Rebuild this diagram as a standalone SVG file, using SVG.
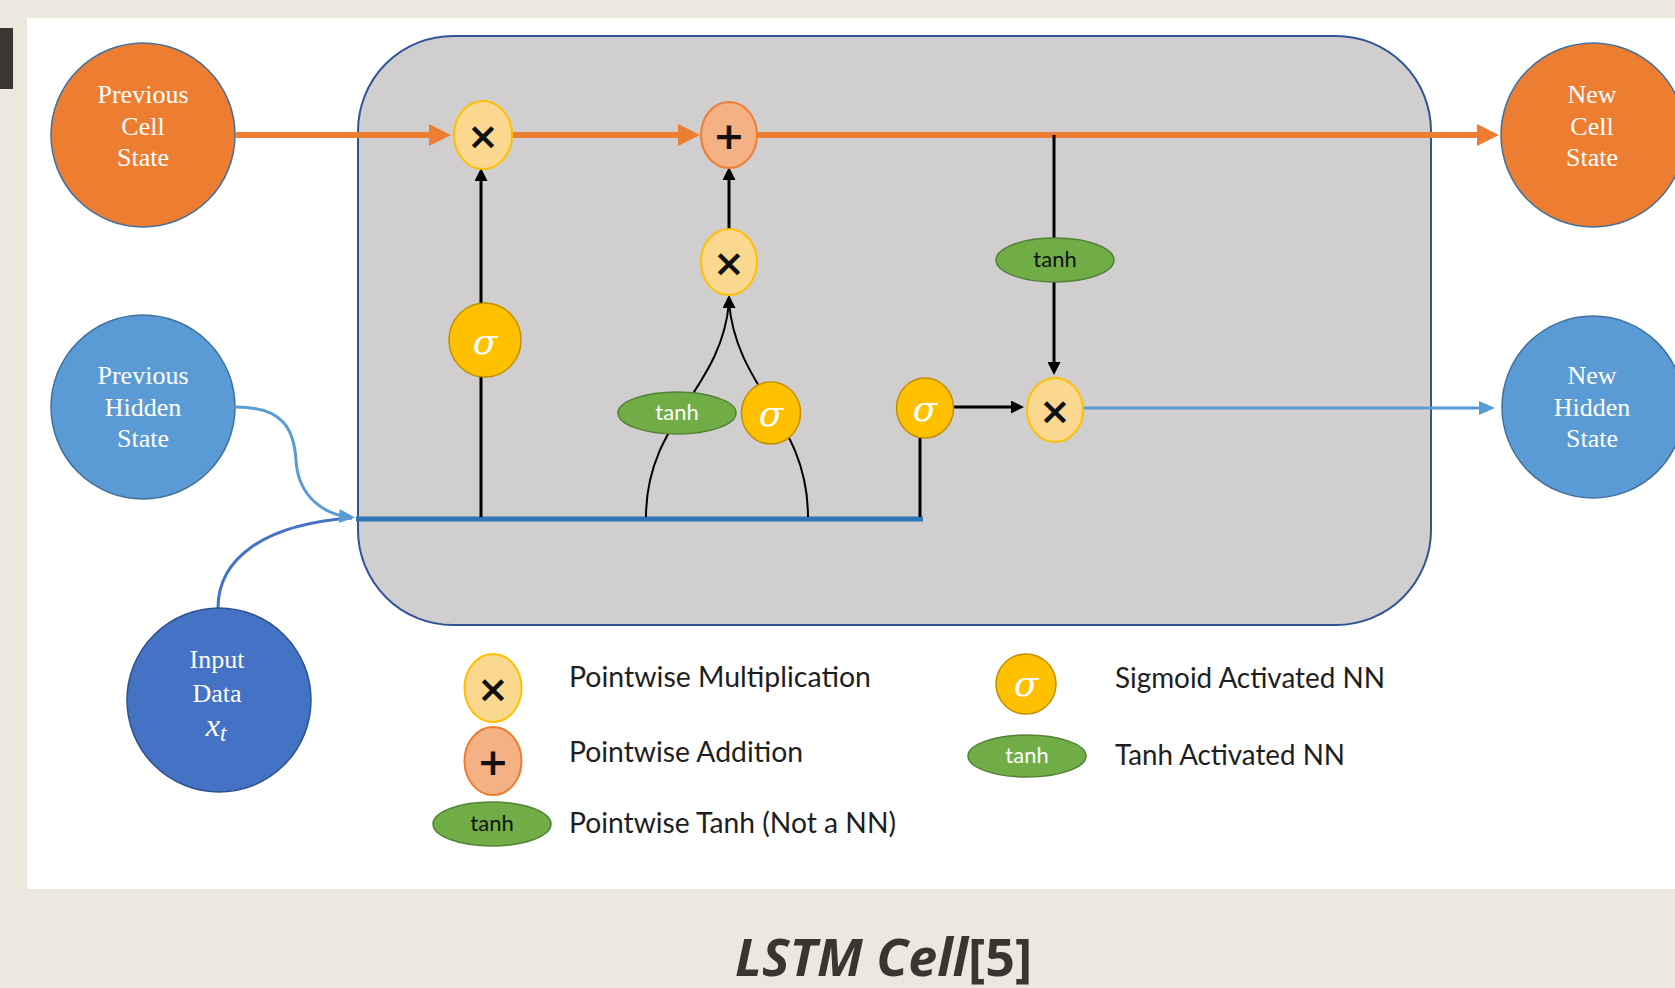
<svg xmlns="http://www.w3.org/2000/svg" width="1675" height="988" viewBox="0 0 1675 988">
  <style>
    .lbl-serif { font-family: "Liberation Serif", "Times New Roman", serif; font-size: 26px; fill: #ffffff; text-anchor: middle; }
    .op { font-family: "DejaVu Sans", "Liberation Sans", sans-serif; font-weight: bold; font-size: 38px; fill: #111111; text-anchor: middle; }
    .sig { font-family: "DejaVu Serif", "Liberation Serif", serif; font-style: italic; font-size: 36px; fill: #ffffff; text-anchor: middle; }
    .tanh { font-family: Lato, "Liberation Sans", sans-serif; font-size: 22px; text-anchor: middle; }
    .legend { font-family: Lato, "Liberation Sans", sans-serif; font-size: 28px; fill: #1e1e1e; }
    .mult { fill: #FAD88F; stroke: #FFC000; stroke-width: 2; }
    .plus { fill: #F4B183; stroke: #ED7D31; stroke-width: 2; }
    .sigma { fill: #FFC000; stroke: #BF9000; stroke-width: 1.5; }
    .act { fill: #70AD47; stroke: #548235; stroke-width: 1.5; }
    .orange { stroke: #ED7D31; stroke-width: 6; fill: none; }
    .black { stroke: #000000; stroke-width: 3; fill: none; }
    .thin { stroke: #000000; stroke-width: 2; fill: none; }
  </style>
  <defs>
    <marker id="arrow-orange" markerUnits="userSpaceOnUse" markerWidth="22" markerHeight="22" refX="14" refY="11" orient="auto">
      <path d="M0,0 L22,11 L0,22 Z" fill="#ED7D31"/>
    </marker>
    <marker id="arrow-black" markerUnits="userSpaceOnUse" markerWidth="13" markerHeight="13" refX="8" refY="6.5" orient="auto">
      <path d="M0,0 L13,6.5 L0,13 Z" fill="#000000"/>
    </marker>
    <marker id="arrow-lightblue" markerUnits="userSpaceOnUse" markerWidth="16" markerHeight="14" refX="11" refY="7" orient="auto">
      <path d="M0,0 L16,7 L0,14 Z" fill="#5B9BD5"/>
    </marker>
  </defs>

  <!-- page background and white panel -->
  <rect x="0" y="0" width="1675" height="988" fill="#ECE8DE"/>
  <rect x="27" y="18" width="1648" height="871" fill="#ffffff"/>
  <rect x="0" y="28" width="13" height="61" fill="#3B3631"/>

  <!-- cell body -->
  <rect id="cell" x="358" y="36" width="1073" height="589" rx="95" ry="95" fill="#D0CECE" stroke="#2F5597" stroke-width="2"/>

  <g id="connectors">
    <!-- cell state path -->
    <line class="orange" x1="236" y1="135" x2="443" y2="135" marker-end="url(#arrow-orange)"/>
    <line class="orange" x1="512" y1="135" x2="692" y2="135" marker-end="url(#arrow-orange)"/>
    <line class="orange" x1="757" y1="135" x2="1491" y2="135" marker-end="url(#arrow-orange)"/>

    <!-- hidden state + input merge -->
    <path d="M218,608 C218,560 262,524 352,518" stroke="#4472C4" stroke-width="3" fill="none"/>
    <path d="M236,407 C284,407 294,430 296,460 C298,498 326,515 350,517" stroke="#5B9BD5" stroke-width="3" fill="none" marker-end="url(#arrow-lightblue)"/>
    <line x1="356" y1="519" x2="923" y2="519" stroke="#2E75B6" stroke-width="5"/>

    <!-- forget gate -->
    <line class="black" x1="481" y1="517" x2="481" y2="300"/>
    <line class="black" x1="481" y1="300" x2="481" y2="173" marker-end="url(#arrow-black)"/>

    <!-- input gate -->
    <path class="thin" d="M646,517 C646,420 722,390 729,302"/>
    <path class="thin" d="M808,517 C808,420 736,390 729,302"/>
    <line class="thin" x1="729" y1="306" x2="729" y2="300" marker-end="url(#arrow-black)"/>
    <line class="black" x1="729" y1="229" x2="729" y2="172" marker-end="url(#arrow-black)"/>

    <!-- output gate -->
    <line class="black" x1="920" y1="517" x2="920" y2="436"/>
    <line class="black" x1="953" y1="407" x2="1019" y2="407" marker-end="url(#arrow-black)"/>
    <line class="black" x1="1054" y1="135" x2="1054" y2="240"/>
    <line class="black" x1="1054" y1="281" x2="1054" y2="370" marker-end="url(#arrow-black)"/>

    <!-- new hidden state -->
    <line x1="1083" y1="408" x2="1490" y2="408" stroke="#5B9BD5" stroke-width="3" marker-end="url(#arrow-lightblue)"/>
  </g>

  <!-- external states -->
  <g id="prev-cell-state">
    <circle cx="143" cy="135" r="92" fill="#ED7D31" stroke="#41719C" stroke-width="1.5"/>
    <text class="lbl-serif" x="143" y="103">Previous</text>
    <text class="lbl-serif" x="143" y="135">Cell</text>
    <text class="lbl-serif" x="143" y="166">State</text>
  </g>
  <g id="prev-hidden-state">
    <circle cx="143" cy="407" r="92" fill="#5B9BD5" stroke="#41719C" stroke-width="1.5"/>
    <text class="lbl-serif" x="143" y="384">Previous</text>
    <text class="lbl-serif" x="143" y="416">Hidden</text>
    <text class="lbl-serif" x="143" y="447">State</text>
  </g>
  <g id="input-data">
    <circle cx="219" cy="700" r="92" fill="#4472C4" stroke="#2F528F" stroke-width="1.5"/>
    <text class="lbl-serif" x="217" y="668">Input</text>
    <text class="lbl-serif" x="217" y="702">Data</text>
    <text class="lbl-serif" x="216" y="736" style="font-style: italic; font-size: 32px;">x<tspan style="font-size: 23px;" dy="5">t</tspan></text>
  </g>
  <g id="new-cell-state">
    <circle cx="1593" cy="135" r="92" fill="#ED7D31" stroke="#41719C" stroke-width="1.5"/>
    <text class="lbl-serif" x="1592" y="103">New</text>
    <text class="lbl-serif" x="1592" y="135">Cell</text>
    <text class="lbl-serif" x="1592" y="166">State</text>
  </g>
  <g id="new-hidden-state">
    <circle cx="1593" cy="407" r="91" fill="#5B9BD5" stroke="#41719C" stroke-width="1.5"/>
    <text class="lbl-serif" x="1592" y="384">New</text>
    <text class="lbl-serif" x="1592" y="416">Hidden</text>
    <text class="lbl-serif" x="1592" y="447">State</text>
  </g>

  <!-- pointwise operations -->
  <g id="forget-mult">
    <ellipse class="mult" cx="483" cy="135" rx="29" ry="34"/>
    <text class="op" x="483" y="149">×</text>
  </g>
  <g id="cell-add">
    <ellipse class="plus" cx="729" cy="135" rx="28" ry="33"/>
    <text class="op" x="729" y="149">+</text>
  </g>
  <g id="input-mult">
    <ellipse class="mult" cx="729" cy="262" rx="28" ry="33"/>
    <text class="op" x="729" y="276">×</text>
  </g>
  <g id="output-mult">
    <ellipse class="mult" cx="1055" cy="410" rx="28" ry="32"/>
    <text class="op" x="1055" y="424">×</text>
  </g>
  <g id="cell-tanh">
    <ellipse class="act" cx="1055" cy="260" rx="59" ry="22"/>
    <text class="tanh" x="1055" y="267" fill="#111111">tanh</text>
  </g>

  <!-- gate layers -->
  <g id="forget-sigma">
    <ellipse class="sigma" cx="485" cy="340" rx="36" ry="37"/>
    <text class="sig" x="485" y="354">σ</text>
  </g>
  <g id="candidate-tanh">
    <ellipse class="act" cx="677" cy="413" rx="59" ry="21"/>
    <text class="tanh" x="677" y="420" fill="#ffffff">tanh</text>
  </g>
  <g id="input-sigma">
    <ellipse class="sigma" cx="771" cy="413" rx="29.5" ry="31"/>
    <text class="sig" x="771" y="426">σ</text>
  </g>
  <g id="output-sigma">
    <ellipse class="sigma" cx="925" cy="408" rx="28.5" ry="30"/>
    <text class="sig" x="925" y="421">σ</text>
  </g>

  <!-- legend -->
  <g id="legend-mult">
    <ellipse class="mult" cx="493" cy="688" rx="28.5" ry="34"/>
    <text class="op" x="493" y="702">×</text>
    <text class="legend" x="569" y="687" textLength="302" lengthAdjust="spacingAndGlyphs">Pointwise Multiplication</text>
  </g>
  <g id="legend-add">
    <ellipse class="plus" cx="493" cy="761" rx="28.5" ry="34"/>
    <text class="op" x="493" y="775">+</text>
    <text class="legend" x="569" y="762" textLength="234" lengthAdjust="spacingAndGlyphs">Pointwise Addition</text>
  </g>
  <g id="legend-tanh-pointwise">
    <ellipse class="act" cx="492" cy="824" rx="59" ry="22"/>
    <text class="tanh" x="492" y="831" fill="#111111">tanh</text>
    <text class="legend" x="569" y="833" textLength="327" lengthAdjust="spacingAndGlyphs">Pointwise Tanh (Not a NN)</text>
  </g>
  <g id="legend-sigma">
    <ellipse class="sigma" cx="1026" cy="684" rx="30" ry="30"/>
    <text class="sig" x="1026" y="696">σ</text>
    <text class="legend" x="1115" y="688" textLength="270" lengthAdjust="spacingAndGlyphs">Sigmoid Activated NN</text>
  </g>
  <g id="legend-tanh-nn">
    <ellipse class="act" cx="1027" cy="756" rx="59" ry="21"/>
    <text class="tanh" x="1027" y="763" fill="#ffffff">tanh</text>
    <text class="legend" x="1115" y="765" textLength="230" lengthAdjust="spacingAndGlyphs">Tanh Activated NN</text>
  </g>

  <!-- caption -->
  <text x="735" y="976" font-family="'Open Sans', 'Liberation Sans', sans-serif" font-size="52" font-weight="bold" fill="#3A3530"><tspan font-style="italic">LSTM Cell</tspan><tspan>[5]</tspan></text>
</svg>
